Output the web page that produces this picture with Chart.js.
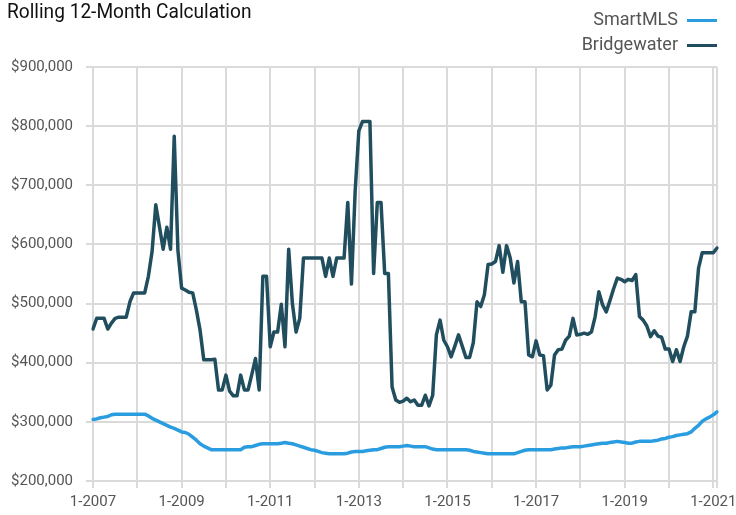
<!DOCTYPE html>
<html lang="en">
<head>
  <meta charset="UTF-8">
  <title>Rolling 12-Month Calculation</title>
  <script src="https://cdn.jsdelivr.net/npm/chart.js"></script>
  <style>
    body { margin: 0; background: #fff; }
    .wrap { position: relative; width: 736px; height: 515px; font-family: "Liberation Sans Narrow", "Arial Narrow", "Roboto", sans-serif; }
    .title { position: absolute; left: 7px; top: -1px; font-size: 21px; color: #111; transform: scaleX(0.91); transform-origin: left top; white-space: nowrap; }
    .legend { position: absolute; right: 19px; top: 6px; font-size: 18px; color: #555; text-align: right; }
    .legend div { height: 25px; line-height: 25px; }
    .legend span { display: inline-block; width: 30px; height: 3px; margin-left: 9px; vertical-align: middle; }
  </style>
</head>
<body>
  <div class="wrap">
    <canvas id="chart" width="736" height="515"></canvas>
    <div class="title">Rolling 12-Month Calculation</div>
    <div class="legend">
      <div>SmartMLS<span style="background:#2a9de0"></span></div>
      <div>Bridgewater<span style="background:#214e5e"></span></div>
    </div>
  </div>

  <script>
    // Months from 1-2007 through 2-2021
    const startYear = 2007;
    const monthCount = 170;
    const months = [];
    for (let i = 0; i < monthCount; i++) {
      months.push((i % 12 + 1) + "-" + (startYear + Math.floor(i / 12)));
    }

    // Rolling 12-month median sale price, in thousands of dollars
    const smartMls = [
      304, 305, 307, 308, 309, 312, 313, 313, 313, 313, 313, 313,
      313, 313, 313, 310, 306, 303, 300, 297, 294, 291, 289, 286,
      283, 282, 279, 274, 269, 263, 259, 256, 253, 253, 253, 253,
      253, 253, 253, 253, 253, 257, 258, 258, 260, 262, 263, 263,
      263, 263, 263, 264, 265, 264, 263, 261, 259, 257, 255, 253,
      252, 250, 248, 247, 246, 246, 246, 246, 246, 247, 249, 250,
      250, 250, 251, 252, 253, 253, 255, 257, 258, 258, 258, 258,
      259, 260, 259, 258, 258, 258, 258, 256, 254, 253, 253, 253,
      253, 253, 253, 253, 253, 253, 252, 250, 249, 248, 247, 246,
      246, 246, 246, 246, 246, 246, 246, 248, 250, 252, 253, 253,
      253, 253, 253, 253, 253, 254, 255, 256, 256, 257, 258, 258,
      258, 259, 260, 261, 262, 263, 264, 264, 265, 266, 267, 266,
      265, 264, 264, 266, 267, 267, 267, 267, 268, 269, 271, 272,
      274, 275, 277, 278, 279, 280, 283, 289, 294, 301, 305, 308,
      312, 317
    ];

    const bridgewater = [
      457, 475, 475, 475, 457, 467, 475, 477, 477, 477, 503, 518,
      518, 518, 518, 546, 588, 667, 630, 592, 629, 592, 783, 590,
      526, 523, 519, 518, 489, 455, 405, 405, 405, 406, 354, 354,
      379, 352, 344, 344, 379, 354, 354, 380, 407, 354, 546, 546,
      427, 452, 452, 499, 427, 592, 500, 452, 475, 577, 577, 577,
      577, 577, 577, 546, 577, 546, 577, 577, 577, 671, 533, 690,
      792, 808, 808, 808, 551, 671, 671, 551, 551, 359, 337, 333,
      335, 340, 334, 337, 328, 328, 345, 327, 345, 447, 472, 438,
      427, 410, 428, 447, 428, 409, 409, 434, 503, 495, 515, 566,
      567, 571, 598, 553, 598, 577, 535, 571, 503, 503, 413, 410,
      437, 413, 412, 354, 362, 413, 422, 423, 438, 445, 475, 447,
      448, 450, 448, 452, 478, 520, 498, 486, 505, 525, 543, 541,
      537, 541, 539, 549, 478, 472, 462, 444, 454, 445, 443, 423,
      423, 402, 422, 402, 427, 445, 486, 486, 560, 586, 586, 586,
      586, 594
    ];

    const yTicks = [200000, 300000, 400000, 500000, 600000, 700000, 800000, 900000];

    const fontFamily = '"Liberation Sans Narrow", "Arial Narrow", "Roboto", sans-serif';
    const gridColor = "#dadada";

    new Chart(document.getElementById("chart").getContext("2d"), {
      type: "line",
      data: {
        labels: months,
        datasets: [
          { label: "SmartMLS", data: smartMls.map(v => v * 1000), borderColor: "#2a9de0", borderWidth: 3.5 },
          { label: "Bridgewater", data: bridgewater.map(v => v * 1000), borderColor: "#214e5e", borderWidth: 3.5 }
        ]
      },
      options: {
        responsive: false,
        animation: false,
        devicePixelRatio: 1,
        layout: { padding: { top: 67, right: 19, left: 0, bottom: 0 } },
        elements: { point: { radius: 0 }, line: { tension: 0, borderJoinStyle: "round", borderCapStyle: "round" } },
        plugins: { legend: { display: false }, tooltip: { enabled: false } },
        scales: {
          x: {
            afterFit: scale => { scale.height = 34; },
            border: { display: false },
            grid: {
              lineWidth: 2,
              tickLength: 7,
              color: ctx => (ctx.index % 12 === 0 || ctx.index === monthCount - 1) ? gridColor : "rgba(0,0,0,0)"
            },
            ticks: {
              autoSkip: false,
              maxRotation: 0,
              padding: 5,
              color: "#555",
              font: { family: fontFamily, size: 15 },
              callback: (v, i) => i % 24 === 0 ? months[i] : ""
            }
          },
          y: {
            min: yTicks[0],
            max: yTicks[yTicks.length - 1],
            afterFit: scale => { scale.width = 93; },
            afterBuildTicks: scale => { scale.ticks = yTicks.map(v => ({ value: v })); },
            border: { display: false },
            grid: { color: gridColor, lineWidth: 2, tickLength: 7 },
            ticks: {
              padding: 13,
              color: "#555",
              font: { family: fontFamily, size: 15 },
              callback: v => "$" + v.toLocaleString("en-US")
            }
          }
        }
      }
    });
  </script>
</body>
</html>
